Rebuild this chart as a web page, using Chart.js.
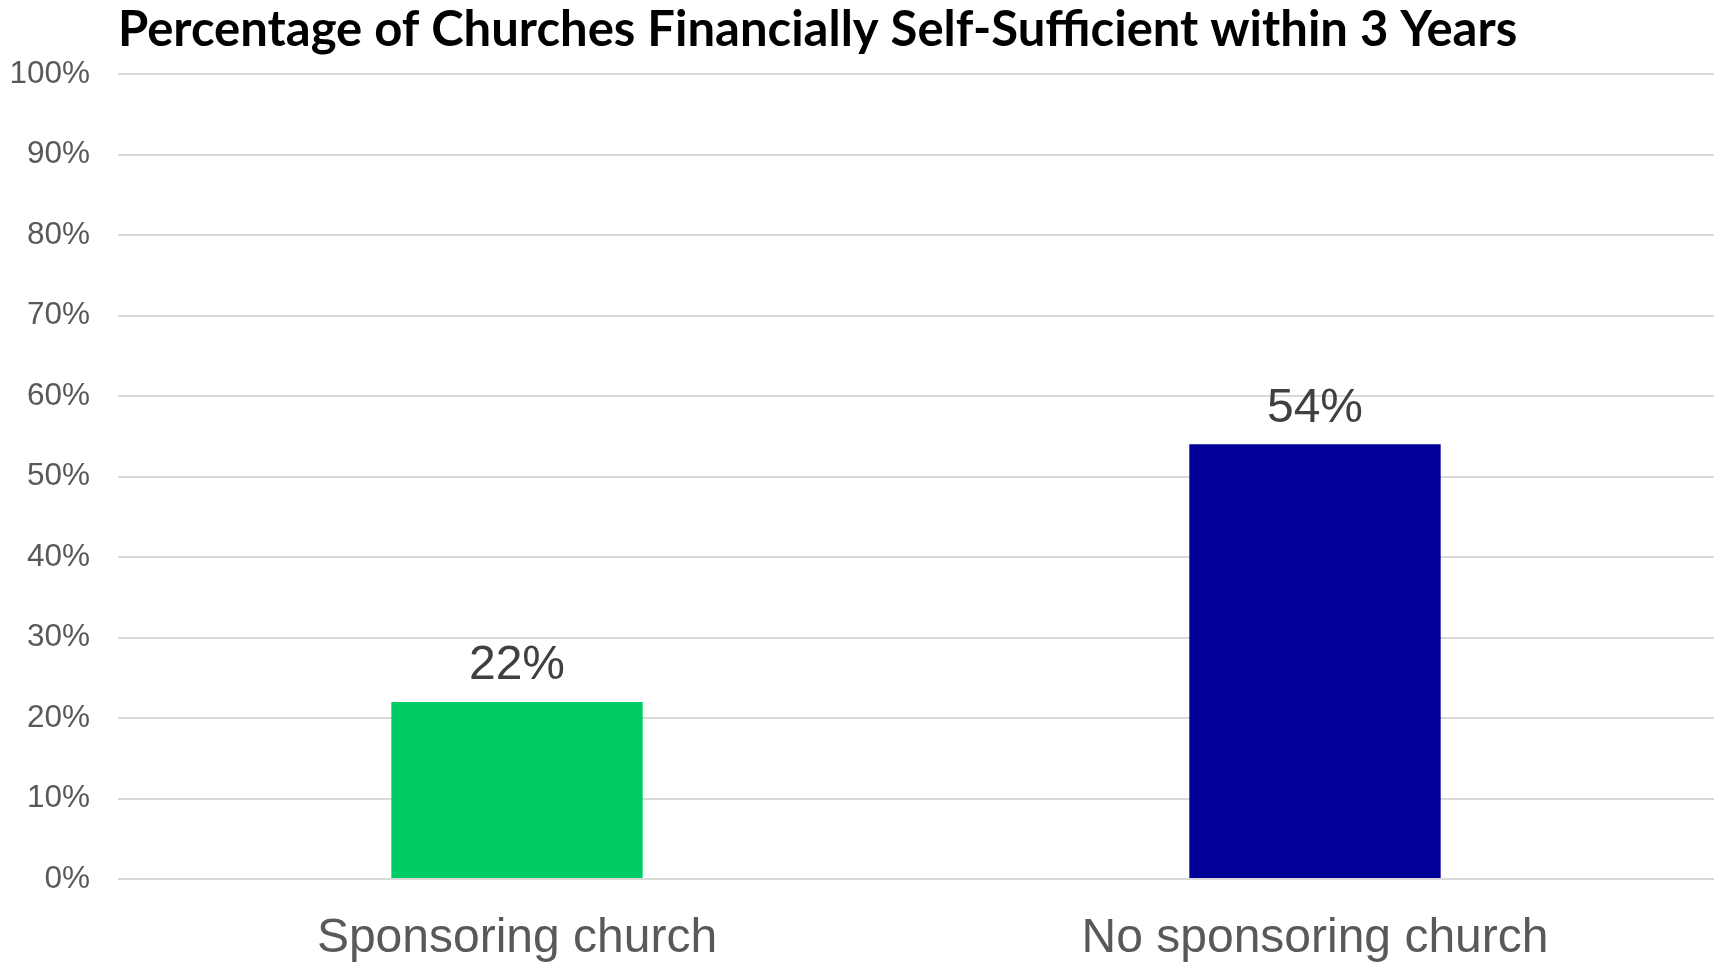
<!DOCTYPE html>
<html>
<head>
<meta charset="utf-8">
<script src="https://cdn.jsdelivr.net/npm/chart.js@4"></script>
<style>
  html, body { margin: 0; padding: 0; background: #ffffff; }
  #wrap { position: relative; width: 1725px; height: 966px; }
</style>
</head>
<body>
<div id="wrap"><canvas id="c" width="1725" height="966"></canvas></div>
<script>
const titleText = 'Percentage of Churches Financially Self-Sufficient within 3 Years';
const categories = ['Sponsoring church', 'No sponsoring church'];
const values = [22, 54];
const barColors = ['#00CC66', '#000099'];
const yTickMin = 0;
const yTickMax = 100;
const yTickStep = 10;

const titlePlugin = {
  id: 'leftTitle',
  afterDraw(chart) {
    const ctx = chart.ctx;
    ctx.save();
    ctx.font = 'bold 49px Lato';
    ctx.fillStyle = '#000000';
    ctx.textAlign = 'left';
    ctx.textBaseline = 'middle';
    ctx.fillText(titleText, chart.chartArea.left, 30);
    ctx.restore();
  }
};

const valueLabels = {
  id: 'valueLabels',
  afterDatasetsDraw(chart) {
    const ctx = chart.ctx;
    const meta = chart.getDatasetMeta(0);
    ctx.save();
    ctx.font = '48px "Liberation Sans", Arial, sans-serif';
    ctx.fillStyle = '#404040';
    ctx.textAlign = 'center';
    ctx.textBaseline = 'middle';
    meta.data.forEach((bar, i) => {
      ctx.fillText(values[i] + '%', bar.x, bar.y - 36);
    });
    ctx.restore();
  }
};

new Chart(document.getElementById('c'), {
  type: 'bar',
  data: {
    labels: categories,
    datasets: [{
      data: values,
      backgroundColor: barColors,
      borderWidth: 0,
      categoryPercentage: 1,
      barPercentage: 0.315
    }]
  },
  options: {
    responsive: false,
    animation: false,
    devicePixelRatio: 1,
    layout: { padding: { top: 74, right: 11, left: 0, bottom: 0 } },
    plugins: {
      legend: { display: false },
      title: { display: false },
      tooltip: { enabled: false }
    },
    scales: {
      x: {
        grid: { display: false, drawTicks: false },
        border: { display: false },
        ticks: {
          color: '#595959',
          font: { family: '"Liberation Sans", Arial, sans-serif', size: 48 },
          padding: 31
        },
        afterFit(scale) { scale.height = 87; }
      },
      y: {
        min: yTickMin,
        max: yTickMax,
        grid: { color: '#d9d9d9', lineWidth: 2, drawTicks: false },
        border: { display: false },
        ticks: {
          stepSize: yTickStep,
          color: '#595959',
          font: { family: '"Liberation Sans", Arial, sans-serif', size: 31.5 },
          padding: 28,
          callback: v => v + '%'
        },
        afterFit(scale) { scale.width = 118; }
      }
    }
  },
  plugins: [titlePlugin, valueLabels]
});
</script>
</body>
</html>
